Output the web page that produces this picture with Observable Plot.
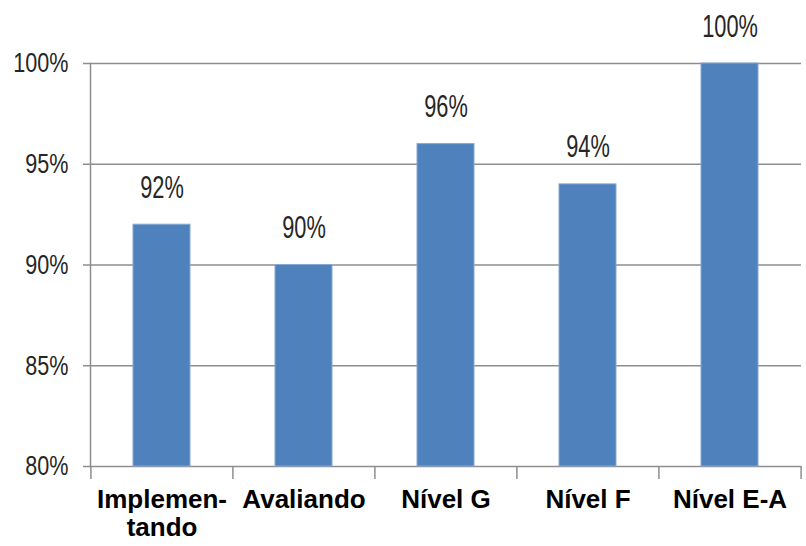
<!DOCTYPE html>
<html>
<head>
<meta charset="utf-8">
<script src="https://cdn.jsdelivr.net/npm/d3@7"></script>
<script src="https://cdn.jsdelivr.net/npm/@observablehq/plot@0.6"></script>
<style>
  body { margin: 0; background: #fff; }
</style>
</head>
<body>
<div id="chart"></div>
<script>
// Share of units meeting the target, by maturity stage
const categories = ["Implementando", "Avaliando", "Nível G", "Nível F", "Nível E-A"];
const categoryLabels = ["Implemen-\ntando", "Avaliando", "Nível G", "Nível F", "Nível E-A"];
const values = [92, 90, 96, 94, 100];
const yTicks = [80, 85, 90, 95, 100];

const data = categories.map((category, i) => ({ category, value: values[i] }));
const labelOf = new Map(categories.map((c, i) => [c, categoryLabels[i]]));

const width = 806, height = 546;
const marginLeft = 90, marginRight = 5, marginTop = 63, marginBottom = 80;
const step = (width - marginLeft - marginRight) / categories.length;

const gray = "#8e8e8e";
const sans = "'Liberation Sans', Arial, sans-serif";

const chart = Plot.plot({
  width, height, marginLeft, marginRight, marginTop, marginBottom,
  style: { fontFamily: sans, background: "#fff", overflow: "visible" },
  x: { domain: categories, paddingInner: 0.6, paddingOuter: 0.3 },
  y: { domain: [yTicks[0], yTicks[yTicks.length - 1]] },
  marks: [
    // horizontal gridlines with short outward ticks
    Plot.gridY(yTicks, { stroke: gray, strokeOpacity: 1, strokeWidth: 1.5 }),
    Plot.axisY({
      ticks: yTicks, tickSize: 7, tickPadding: 15, stroke: gray, strokeWidth: 1.5,
      tickFormat: d => d + "%", fontSize: 28, fill: "#262626", label: null
    }),
    Plot.frame({ anchor: "left", stroke: gray, strokeWidth: 1.5 }),
    // category separators below the baseline
    Plot.axisX({ tickSize: 13, text: null, dx: -step / 2, stroke: gray, strokeWidth: 1.5, label: null }),
    Plot.axisX({ ticks: [categories[categories.length - 1]], tickSize: 13, text: null, dx: step / 2, stroke: gray, strokeWidth: 1.5, label: null }),
    Plot.barY(data, {
      x: "category", y1: yTicks[0], y2: "value",
      fill: "#4f81bd", stroke: "#86a8d4", strokeWidth: 1
    }),
    Plot.text(data, {
      x: "category", y: "value", text: d => d.value + "%",
      lineAnchor: "bottom", dy: -27, fontSize: 32, fill: "#262626"
    }),
    Plot.axisX({
      tickSize: 0, tickPadding: 21, tickFormat: d => labelOf.get(d),
      fontSize: 26, fontWeight: "bold", fill: "#000", lineHeight: 1.1, label: null
    })
  ]
});

document.getElementById("chart").appendChild(chart);

// Percentages use a condensed look: squeeze the glyphs horizontally
function condense(selector, ratio) {
  chart.querySelectorAll(selector).forEach(t => {
    const len = t.getComputedTextLength();
    t.setAttribute("textLength", (len * ratio).toFixed(1));
    t.setAttribute("lengthAdjust", "spacingAndGlyphs");
  });
}
condense('g[aria-label="y-axis tick label"] text', 0.77);
condense('g[aria-label="text"] text', 0.68);
</script>
</body>
</html>
